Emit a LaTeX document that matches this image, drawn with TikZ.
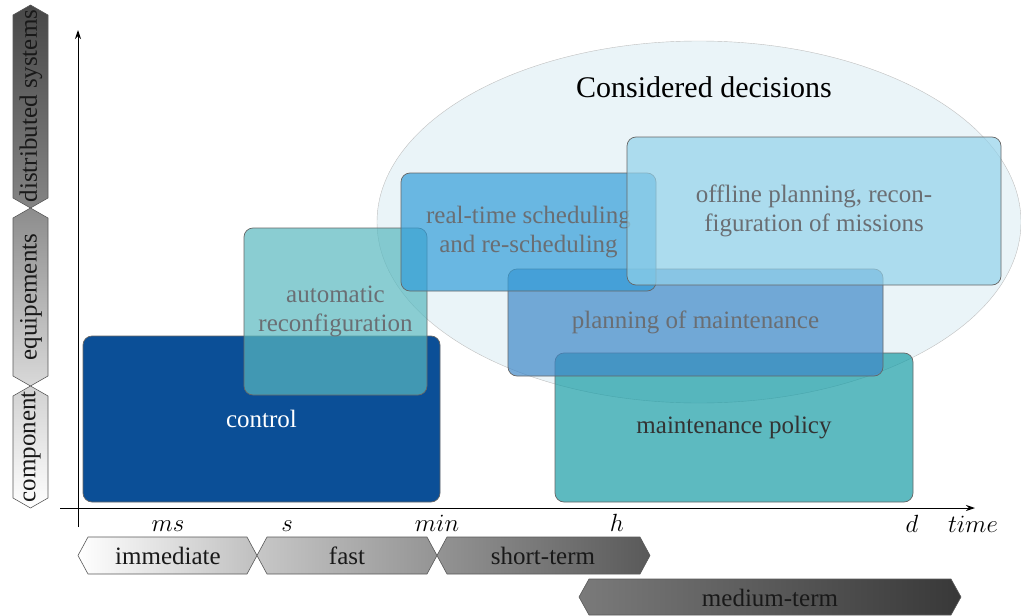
\documentclass[tikz,border=0pt]{standalone}
\usepackage{fontspec}
\setmainfont{Liberation Serif}
\usetikzlibrary{arrows.meta,shapes.geometric}
\definecolor{cEll}{HTML}{EAF4F8}
\definecolor{cCtl}{HTML}{0B4F97}
\definecolor{cAut}{HTML}{58B8BF}
\definecolor{cRt}{HTML}{339ED9}
\definecolor{cOff}{HTML}{93D2EA}
\definecolor{cPlan}{HTML}{3F88C8}
\definecolor{cPol}{HTML}{189CA5}
\definecolor{cTxt}{HTML}{6A6E73}
\begin{document}
\begin{tikzpicture}[x=1pt,y=-1pt,
  box/.style={draw=black!60, line width=0.7pt, rounded corners=9pt, fill opacity=0.7, text opacity=1,
    inner sep=0pt, align=center, font=\fontsize{25}{29}\selectfont, text=cTxt},
  chev/.style={draw=black!65, line width=0.6pt},
  lab/.style={font=\fontsize{25}{28}\selectfont, text=black!90, inner sep=0pt},
  tick/.style={font=\fontsize{23}{26}\selectfont, anchor=base, inner sep=0pt},
  axis/.style={line width=1pt, -{Stealth[length=9pt,width=6pt]}}]
\useasboundingbox (0,0) rectangle (1021,616);

% ellipse
\node[ellipse, draw=black!25, fill=cEll, minimum width=644pt, minimum height=362pt, inner sep=0pt] (ell) at (699,222) {};
\node[font=\fontsize{30}{34}\selectfont, inner sep=0pt] (cons) at (704,87) {Considered decisions};

% boxes
\node[box, fill=cCtl, fill opacity=1, text=white, minimum width=357pt, minimum height=166pt] (ctl) at (261.5,419) {control};
\node[box, fill=cAut, minimum width=183pt, minimum height=167pt] (aut) at (335.5,311.5) {automatic\\reconfiguration};
\node[box, fill=cPol, text=black!80, minimum width=358pt, minimum height=149pt] (pol) at (734,427.5) {maintenance policy};
\node[box, fill=cPlan, minimum width=375pt, minimum height=107pt] (plan) at (695.5,322.5) {planning of maintenance};
\node[box, fill=cRt, minimum width=255pt, minimum height=118pt] (rt) at (528.5,232) {real-time scheduling\\and re-scheduling};
\node[box, fill=cOff, minimum width=374pt, minimum height=148pt] (off) at (814,211) {offline planning, recon-\\figuration of missions};

% axes
\coordinate (yb) at (78,527);
\coordinate (yt) at (78,30);
\coordinate (xl) at (60,508);
\coordinate (xr) at (975,508);
\draw[axis] (yb) -- (yt);
\draw[axis] (xl) -- (xr);

% tick labels
\node[tick] (tms) at (168,531) {$ms$};
\node[tick] (ts) at (287,531) {$s$};
\node[tick] (tmin) at (437,531) {$min$};
\node[tick] (th) at (617,531) {$h$};
\node[tick] (td) at (912,532) {$d$};
\node[tick] (ttime) at (973,532) {$time$};

% vertical chevrons
\shade[chev, top color=black!72, bottom color=black!48]
  (30.5,5) -- (48,15) -- (48,198) -- (30.5,208) -- (13,198) -- (13,15) -- cycle;
\shade[chev, top color=black!45, bottom color=black!15]
  (30.5,208) -- (48,218) -- (48,376) -- (30.5,386) -- (13,376) -- (13,218) -- cycle;
\shade[chev, top color=black!18, bottom color=white]
  (30.5,386) -- (48,396) -- (48,498) -- (30.5,508) -- (13,498) -- (13,396) -- cycle;
\node[lab, rotate=90] (ldist) at (31,106) {distributed systems};
\node[lab, rotate=90] (lequ) at (31,297) {equipements};
\node[lab, rotate=90] (lcomp) at (31,447) {component};

% horizontal chevrons
\shade[chev, left color=white, right color=black!25]
  (78,555.5) -- (88,537) -- (247,537) -- (257,555.5) -- (247,574) -- (88,574) -- cycle;
\shade[chev, left color=black!22, right color=black!42]
  (257,555.5) -- (267,537) -- (427,537) -- (437,555.5) -- (427,574) -- (267,574) -- cycle;
\shade[chev, left color=black!42, right color=black!65]
  (437,555.5) -- (447,537) -- (640,537) -- (650,555.5) -- (640,574) -- (447,574) -- cycle;
\shade[chev, left color=black!52, right color=black!78]
  (579,597) -- (589,579) -- (951,579) -- (961,597) -- (951,615) -- (589,615) -- cycle;
\node[lab] (limm) at (168,556) {immediate};
\node[lab] (lfast) at (347,556) {fast};
\node[lab] (lshort) at (543,556) {short-term};
\node[lab] (lmed) at (770,598) {medium-term};
\end{tikzpicture}
\end{document}
